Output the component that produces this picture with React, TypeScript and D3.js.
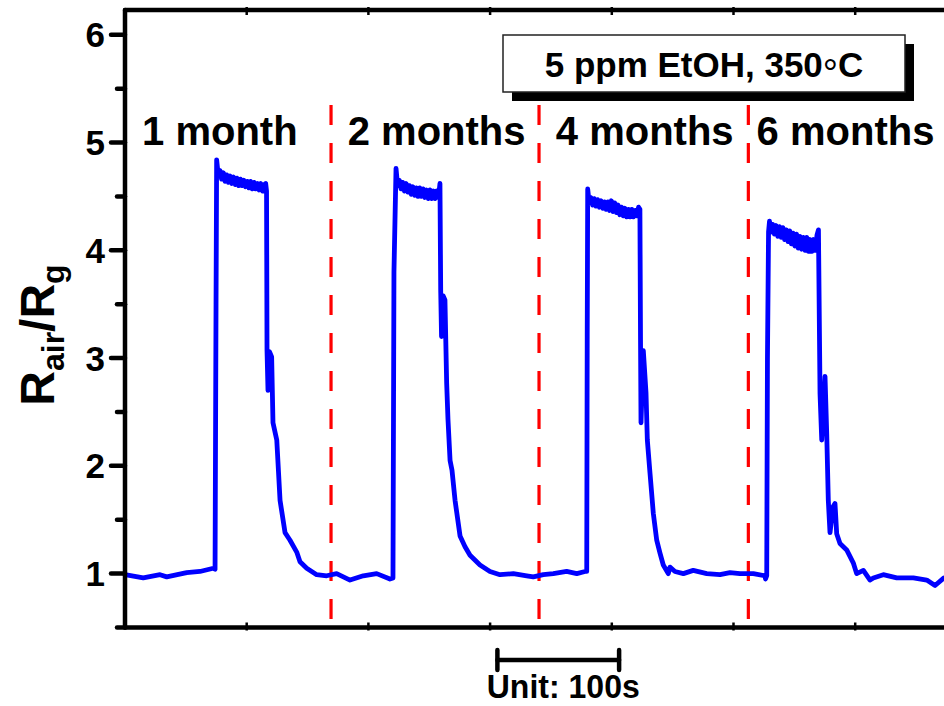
import React, { useRef, useEffect } from 'react';
import * as d3 from 'd3';

const W = 944;
const H = 706;

const yTicks = [1, 2, 3, 4, 5, 6];
const yMinorTicks = [0.5, 1.5, 2.5, 3.5, 4.5, 5.5];
const xTicks = [100, 200, 300, 400, 500, 600];
const ageLabels = ['1 month', '2 months', '4 months', '6 months'];
const labelStarts = [14, 183, 354, 519];
const dividers = [169.3, 340.2, 512.2];
const scaleBar = [306, 406];

// [time (s), Rair/Rg]
const cycle1: [number, number][] = [
    [0, 0.99], [15, 0.96], [28.8, 0.99], [34.3, 0.97], [50.7, 1.01], [61.6, 1.02], [72.6, 1.05], [74, 1.04],
    [74.8, 3.5], [75.3, 4.84], [76.6, 4.7], [78, 4.74], [79.4, 4.66], [80.8, 4.72], [82.2, 4.64], [83.6, 4.7],
    [85, 4.63], [86.4, 4.69], [87.8, 4.62], [89.2, 4.68], [90.6, 4.61], [92, 4.67], [93.4, 4.6], [94.8, 4.66],
    [96.2, 4.6], [97.6, 4.65], [99, 4.59], [100.4, 4.64], [101.8, 4.58], [103.2, 4.64], [104.6, 4.57], [106, 4.63],
    [107.4, 4.57], [108.8, 4.62], [110.2, 4.56], [111.6, 4.62], [113, 4.55], [114.4, 4.61], [115.6, 4.62],
    [116.3, 4.55], [116.7, 3.07], [117.5, 2.7], [118.7, 3.06], [120.5, 3.01], [121.6, 2.4], [124.7, 2.24],
    [127.4, 1.68], [131.5, 1.38], [135.6, 1.31], [141.1, 1.2], [143.8, 1.11], [149.3, 1.05], [157.5, 0.99],
    [165.7, 0.98], [173.9, 1.0], [184.9, 0.94], [195.8, 0.98], [206.8, 1.0], [217.7, 0.95], [220.2, 0.96]
];

const cycle2: [number, number][] = [
    [221, 3.8], [222.7, 4.76], [224, 4.6], [225.4, 4.65], [226.8, 4.57], [228.2, 4.63], [229.6, 4.55], [231, 4.62],
    [232.4, 4.54], [233.8, 4.6], [235.2, 4.52], [236.6, 4.59], [238, 4.51], [239.4, 4.58], [240.8, 4.5],
    [242.2, 4.58], [243.6, 4.5], [245, 4.57], [246.4, 4.49], [247.8, 4.56], [249.2, 4.48], [250.6, 4.56],
    [252, 4.48], [253.4, 4.55], [254.8, 4.48], [256.2, 4.55], [257.6, 4.49], [258.8, 4.62],
    [259.4, 3.63], [260.1, 3.2], [261.3, 3.58], [262.9, 3.54], [264.3, 2.77], [265.4, 2.43], [267.1, 2.05],
    [268.7, 1.96], [271.2, 1.68], [275.3, 1.35], [279.4, 1.25], [283.5, 1.17], [291.7, 1.08], [299.9, 1.02],
    [308.1, 0.99], [319.1, 1.0], [330.1, 0.98], [335.5, 0.97], [343.7, 0.99], [351.9, 1.0], [362.9, 1.02],
    [371.2, 1.0], [378, 1.02], [379.4, 1.02]
];

const cycle3: [number, number][] = [
    [379.8, 3.2], [380.2, 4.57], [381.4, 4.44], [382.8, 4.49], [384.2, 4.42], [385.6, 4.48], [387, 4.41],
    [388.4, 4.47], [389.8, 4.4], [391.2, 4.46], [392.6, 4.39], [394, 4.45], [395.4, 4.38], [396.8, 4.45],
    [398.2, 4.37], [399.6, 4.46], [401, 4.36], [402.4, 4.44], [403.8, 4.35], [405.2, 4.42], [406.6, 4.33],
    [408, 4.4], [409.4, 4.32], [410.8, 4.39], [412.2, 4.31], [413.6, 4.38], [415, 4.31], [416.4, 4.38],
    [417.8, 4.31], [419.2, 4.37], [420.6, 4.32], [422, 4.4], [423.1, 4.38],
    [423.6, 3.17], [424, 2.4], [425.9, 3.07], [428.1, 2.68], [429.2, 2.24], [431.4, 1.93], [434.1, 1.56],
    [436.9, 1.31], [439.6, 1.19], [442.3, 1.08], [446.4, 1.0], [447.8, 1.06], [451.9, 1.02], [458.8, 1.0],
    [466.9, 1.03], [478, 1.0], [488.9, 0.99], [497.1, 1.01], [505.3, 1.0], [516.3, 1.0], [525.9, 0.98],
    [526.3, 0.95], [527.3, 0.98]
];

const cycle4: [number, number][] = [
    [527.9, 3.0], [528.8, 4.17], [529.6, 4.27], [530.8, 4.17], [532.2, 4.24], [533.6, 4.15], [535, 4.23],
    [536.4, 4.13], [537.8, 4.22], [539.2, 4.12], [540.6, 4.21], [542, 4.1], [543.4, 4.19], [544.8, 4.08],
    [546.2, 4.18], [547.6, 4.06], [549, 4.16], [550.4, 4.04], [551.8, 4.15], [553.2, 4.02], [554.6, 4.13],
    [556, 4.01], [557.4, 4.12], [558.8, 4.0], [560.2, 4.12], [561.6, 3.99], [563, 4.1], [564.4, 3.99],
    [565.8, 4.1], [567.2, 4.0], [568.6, 4.14], [569.8, 4.19],
    [571.1, 2.67], [572.5, 2.24], [575.2, 2.83], [576.6, 2.3], [577.9, 1.68], [579.3, 1.38], [581.8, 1.62],
    [583.4, 1.65], [584.8, 1.37], [587.5, 1.28], [593, 1.22], [598.4, 1.1], [601.2, 1.0], [606.7, 1.03],
    [612.2, 0.94], [614.9, 0.96], [623.1, 0.99], [634.1, 0.96], [647.8, 0.96], [658.8, 0.94], [665.6, 0.89],
    [672.9, 0.96], [677.9, 0.95]
];

const FONT = '"Liberation Sans", Arial, sans-serif';

export default function App() {
    const ref = useRef<SVGSVGElement>(null);

    useEffect(() => {
        const svg = d3.select(ref.current);
        svg.selectAll('*').remove();

        const x = d3.scaleLinear().domain([0, 700]).range([125, 125 + 700 * 1.217]);
        const y = d3.scaleLinear().domain([0.5, 6.23]).range([627.5, 10]);
        const x0 = x(0);
        const y0 = y(0.5);
        const yTop = y(6.23);

        // data line
        const data = [...cycle1, ...cycle2, ...cycle3, ...cycle4];
        const line = d3
            .line<[number, number]>()
            .x(d => x(d[0]))
            .y(d => y(d[1]));

        // red dividers
        svg.selectAll('line.divider')
            .data(dividers)
            .enter()
            .append('line')
            .attr('class', 'divider')
            .attr('x1', d => x(d))
            .attr('x2', d => x(d))
            .attr('y1', 105)
            .attr('y2', 622)
            .attr('stroke', '#ff0000')
            .attr('stroke-width', 3.2)
            .attr('stroke-dasharray', '20 18');

        svg.append('path')
            .datum(data)
            .attr('d', line)
            .attr('fill', 'none')
            .attr('stroke', '#0000ff')
            .attr('stroke-width', 4.8)
            .attr('stroke-linejoin', 'round')
            .attr('stroke-linecap', 'round');

        // frame
        const frame = svg.append('g').attr('stroke', '#000').attr('stroke-width', 4.5).attr('stroke-linecap', 'round');
        frame.append('line').attr('x1', x0).attr('x2', W + 10).attr('y1', y0).attr('y2', y0);
        frame.append('line').attr('x1', x0).attr('x2', W + 10).attr('y1', yTop).attr('y2', yTop);
        frame.append('line').attr('x1', x0).attr('x2', x0).attr('y1', yTop).attr('y2', y0);

        // y ticks
        frame.selectAll('line.ymajor')
            .data(yTicks)
            .enter()
            .append('line')
            .attr('class', 'ymajor')
            .attr('x1', x0 - 14)
            .attr('x2', x0)
            .attr('y1', d => y(d))
            .attr('y2', d => y(d));
        frame.selectAll('line.yminor')
            .data(yMinorTicks)
            .enter()
            .append('line')
            .attr('class', 'yminor')
            .attr('x1', x0 - 8)
            .attr('x2', x0)
            .attr('y1', d => y(d))
            .attr('y2', d => y(d));

        // x ticks (small, on bottom and top)
        const xt = svg.append('g').attr('stroke', '#000').attr('stroke-width', 2.5);
        xTicks.forEach(t => {
            xt.append('line').attr('x1', x(t)).attr('x2', x(t)).attr('y1', y0 - 5).attr('y2', y0 + 3);
            xt.append('line').attr('x1', x(t)).attr('x2', x(t)).attr('y1', yTop - 3).attr('y2', yTop + 5);
        });

        // y tick labels
        svg.selectAll('text.ylab')
            .data(yTicks)
            .enter()
            .append('text')
            .attr('class', 'ylab')
            .attr('x', x0 - 20)
            .attr('y', d => y(d))
            .attr('dy', '0.36em')
            .attr('text-anchor', 'end')
            .attr('font-family', FONT)
            .attr('font-weight', 'bold')
            .attr('font-size', 35)
            .text(d => d);

        // y title
        const title = svg.append('text')
            .attr('transform', 'translate(54,335) rotate(-90)')
            .attr('text-anchor', 'middle')
            .attr('font-family', FONT)
            .attr('font-weight', 'bold')
            .attr('font-size', 48);
        title.append('tspan').text('R');
        title.append('tspan').attr('font-size', 32).attr('dy', 10).text('air');
        title.append('tspan').attr('dy', -10).text('/R');
        title.append('tspan').attr('font-size', 32).attr('dy', 10).text('g');

        // age labels
        svg.selectAll('text.age')
            .data(ageLabels)
            .enter()
            .append('text')
            .attr('class', 'age')
            .attr('x', (d, i) => x(labelStarts[i]))
            .attr('y', 145)
            .attr('font-family', FONT)
            .attr('font-weight', 'bold')
            .attr('font-size', 40)
            .text(d => d);

        // condition box with shadow
        svg.append('rect').attr('x', 512).attr('y', 44).attr('width', 402).attr('height', 57).attr('fill', '#000');
        svg.append('rect')
            .attr('x', 503)
            .attr('y', 35)
            .attr('width', 402)
            .attr('height', 57)
            .attr('fill', '#fff')
            .attr('stroke', '#222')
            .attr('stroke-width', 1.5);
        const cond = svg.append('text')
            .attr('x', 704)
            .attr('y', 77)
            .attr('text-anchor', 'middle')
            .attr('font-family', FONT)
            .attr('font-weight', 'bold')
            .attr('font-size', 35);
        cond.append('tspan').text('5 ppm EtOH, 350');
        cond.append('tspan').attr('dy', 9).attr('font-size', 38).attr('font-weight', 'normal').text('°');
        cond.append('tspan').attr('dy', -9).text('C');

        // scale bar
        const bar = svg.append('g').attr('stroke', '#000').attr('stroke-width', 4.5).attr('stroke-linecap', 'round');
        bar.append('line').attr('x1', x(scaleBar[0])).attr('x2', x(scaleBar[1])).attr('y1', 660).attr('y2', 660);
        scaleBar.forEach(t => {
            bar.append('line').attr('x1', x(t)).attr('x2', x(t)).attr('y1', 650).attr('y2', 670);
        });
        svg.append('text')
            .attr('x', (x(scaleBar[0]) + x(scaleBar[1])) / 2 + 5)
            .attr('y', 698)
            .attr('text-anchor', 'middle')
            .attr('font-family', FONT)
            .attr('font-weight', 'bold')
            .attr('font-size', 33)
            .attr('textLength', 153)
            .attr('lengthAdjust', 'spacingAndGlyphs')
            .text('Unit: 100s');
    }, []);

    return (
        <svg
            ref={ref}
            width={W}
            height={H}
            style={{ position: 'absolute', left: 0, top: 0, background: '#fff' }}
        />
    );
}
